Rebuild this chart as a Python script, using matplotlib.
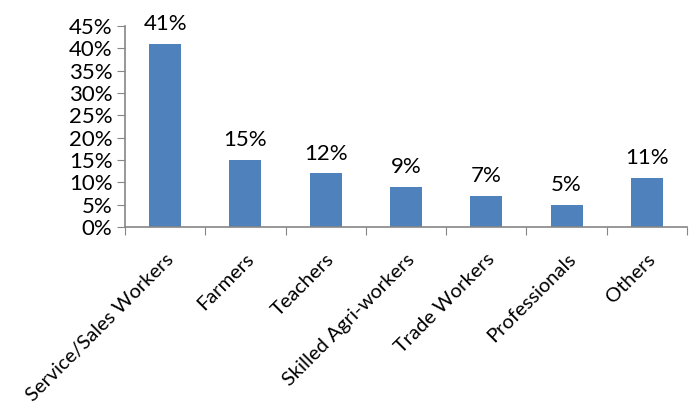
import matplotlib.pyplot as plt
import numpy as np

categories = ["Service/Sales Workers", "Farmers", "Teachers", "Skilled Agri-workers",
              "Trade Workers", "Professionals", "Others"]
shares = [41, 15, 12, 9, 7, 5, 11]
y_ticks = [0, 5, 10, 15, 20, 25, 30, 35, 40, 45]

plt.rcParams['font.family'] = ['Lato', 'DejaVu Sans']
bar_color = "#4F81BD"
axis_color = "#868686"
fs = 16

fig = plt.figure(figsize=(6.94, 4.05), dpi=100)
ax = fig.add_axes([125 / 694, 1 - 227 / 405, (687 - 125) / 694, (227 - 26) / 405])

x = np.arange(len(categories))
ax.bar(x, shares, width=0.4, color=bar_color)
for xi, v in zip(x, shares):
    ax.text(xi, v + 2.2, f"{v}%", ha="center", va="bottom", fontsize=fs)

ax.set_xlim(-0.5, len(categories) - 0.5)
ax.set_ylim(0, 45)
ax.set_yticks(y_ticks)
ax.set_yticklabels([f"{t}%" for t in y_ticks], fontsize=fs)

# ticks sit between categories, labels at category centres
ax.set_xticks(np.arange(len(categories) + 1) - 0.5)
ax.set_xticklabels([])
ax.set_xticks(x, minor=True)
ax.set_xticklabels(categories, minor=True, rotation=45, ha="right",
                   rotation_mode="anchor", fontsize=14.5)
ax.tick_params(axis="x", which="minor", length=0, pad=17)
ax.tick_params(axis="x", which="major", length=6, color=axis_color, direction="out")
ax.tick_params(axis="y", length=6, color=axis_color, direction="out", pad=3)

for side in ["top", "right"]:
    ax.spines[side].set_visible(False)
for side in ["left", "bottom"]:
    ax.spines[side].set_color(axis_color)
    ax.spines[side].set_linewidth(1.2)

fig.savefig("out.png", dpi=100)
